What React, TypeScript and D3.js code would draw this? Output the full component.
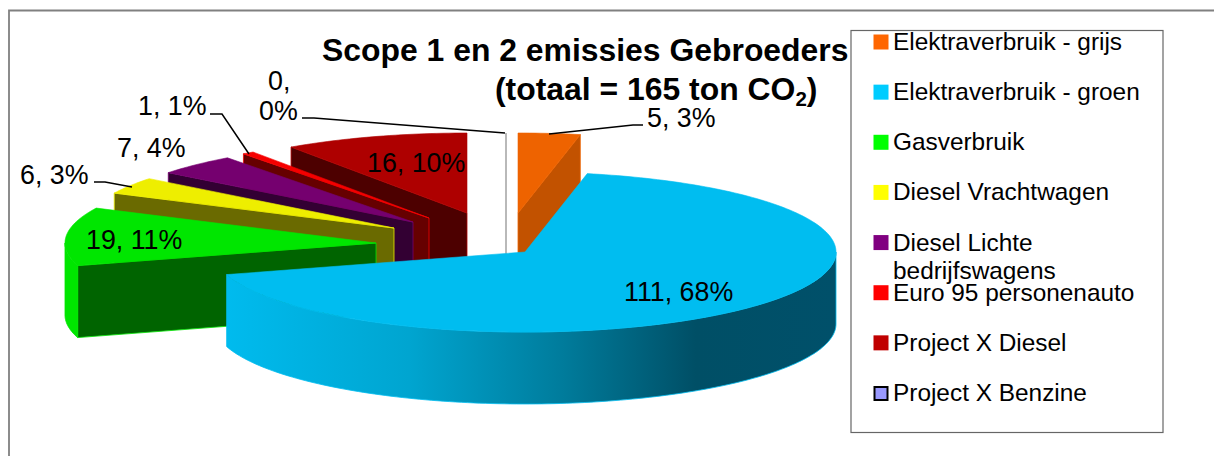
import React from "react";
import * as d3 from "d3";

// ---- data ----
const categories = [
  "Elektraverbruik - grijs",
  "Elektraverbruik - groen",
  "Gasverbruik",
  "Diesel Vrachtwagen",
  "Diesel Lichte bedrijfswagens",
  "Euro 95 personenauto",
  "Project X Diesel",
  "Project X Benzine",
];
const values = [5.3, 111, 19.4, 5.6, 7, 1, 15.8, 0];
const valueLabels = ["5, 3%", "111, 68%", "19, 11%", "6, 3%", "7, 4%", "1, 1%", "16, 10%", "0, 0%"];

// ---- styles / layout ----
const topColors = ["#EE6300", "#00BDF0", "#00E600", "#EEEE00", "#75006F", "#F50000", "#AE0000", "#A8A8A8"];
const faceColors = ["#C25200", "#00BDF0", "#006400", "#6A6A00", "#330033", "#660000", "#4D0000", "#A8A8A8"];
const swatchColors = ["#FF6600", "#00CCFF", "#00FF00", "#FFFF00", "#800080", "#FF0000", "#C00000", "#9999FF"];
const apexX = [518, 525, 376, 394, 413, 429, 467, 506];
const apexY = [213, 252, 243, 228, 222, 218, 213, 213];
const paintOrder = [7, 6, 5, 4, 3, 2, 0, 1];
const RX = 311;
const RY = 80;
const DEPTH = 72;
const FONT = "'Liberation Sans', Arial, sans-serif";

const pieAngles = d3.pie<number>().sort(null).value((d) => d)(values);
const sx = d3.scaleLinear().domain([-1, 1]).range([-RX, RX]);
const sy = d3.scaleLinear().domain([-1, 1]).range([RY, -RY]);
const line = d3.line<[number, number]>();
const legendY = d3.scaleLinear().domain([0, 7]).range([42, 393]);

function rimPoint(i: number, a: number, drop = 0): [number, number] {
  return [apexX[i] + sx(Math.sin(a)), apexY[i] + sy(Math.cos(a)) + drop];
}
function arcPoints(i: number, a0: number, a1: number, drop = 0): [number, number][] {
  const n = Math.max(2, Math.ceil(Math.abs(a1 - a0) / 0.02));
  return d3.range(n + 1).map((k) => rimPoint(i, a0 + ((a1 - a0) * k) / n, drop));
}
function radialFace(i: number, a: number): string {
  const apex: [number, number] = [apexX[i], apexY[i]];
  const rim = rimPoint(i, a);
  return line([apex, rim, [rim[0], rim[1] + DEPTH], [apex[0], apex[1] + DEPTH]])! + "Z";
}
function Slice({ i }: { i: number }) {
  const { startAngle: a0, endAngle: a1 } = pieAngles[i];
  const apex: [number, number] = [apexX[i], apexY[i]];
  if (values[i] === 0) {
    const rim = rimPoint(i, a1);
    return <path d={line([rim, [apex[0], apex[1] + DEPTH]])!} stroke={topColors[i]} strokeWidth={1.6} fill="none" />;
  }
  const faces: string[] = [];
  if (Math.cos(a0 - Math.PI / 2) < -0.001) faces.push(radialFace(i, a0));
  if (Math.cos(a1 + Math.PI / 2) < -0.001) faces.push(radialFace(i, a1));
  const r0 = Math.max(a0, Math.PI / 2);
  const r1 = Math.min(a1, (3 * Math.PI) / 2);
  const rimPath = r1 > r0 ? line([...arcPoints(i, r0, r1), ...arcPoints(i, r1, r0, DEPTH)])! + "Z" : null;
  const topPath = line([apex, ...arcPoints(i, a0, a1)])! + "Z";
  return (
    <g>
      {faces.map((d, k) => (
        <path key={k} d={d} fill={faceColors[i]} stroke={topColors[i]} strokeWidth={0.8} />
      ))}
      {rimPath && (
        <path d={rimPath} fill={i === 1 ? "url(#blueRim)" : topColors[i]} stroke={topColors[i]} strokeWidth={0.8} />
      )}
      <path d={topPath} fill={topColors[i]} stroke={topColors[i]} strokeWidth={0.6} />
    </g>
  );
}

const leaders: [number, number][][] = [
  [[549, 134], [633, 125], [643, 125]],
  [[302, 118], [314, 118], [505, 133]],
  [[210, 114], [222, 114], [249, 154]],
  [[94, 182], [105, 182], [132, 187]],
];
const LABEL_FS = 26.8;
const labelPos: [number, number][] = [
  [647, 127], [624, 301], [86, 249], [20, 184], [117, 157], [138, 115], [367, 172],
];

export default function App() {
  return (
    <svg
      width={1214}
      height={456}
      viewBox="0 0 1214 456"
      style={{ position: "absolute", left: 0, top: 0, display: "block", background: "#fff" }}
    >
      <defs>
        <linearGradient id="blueRim" gradientUnits="userSpaceOnUse" x1={226} x2={836} y1={0} y2={0}>
          <stop offset="0" stopColor="#00BBEE" />
          <stop offset="0.3" stopColor="#00A5D0" />
          <stop offset="0.55" stopColor="#007C9C" />
          <stop offset="0.77" stopColor="#004F66" />
          <stop offset="1" stopColor="#00506A" />
        </linearGradient>
      </defs>
      <path d="M9 456V10.5H1214" fill="none" stroke="#808080" strokeWidth={1.8} />

      <g fontFamily={FONT} fontWeight="bold" fontSize={31.9} fill="#000">
        <text x={322} y={61}>Scope 1 en 2 emissies Gebroeders</text>
        <text x={495} y={100}>
          (totaal = 165 ton CO<tspan fontSize={20.5} dy={6}>2</tspan><tspan dy={-6}>)</tspan>
        </text>
      </g>

      {paintOrder.map((i) => (
        <Slice key={i} i={i} />
      ))}

      {leaders.map((pts, i) => (
        <path key={i} d={line(pts)!} fill="none" stroke="#000" strokeWidth={1.5} />
      ))}
      <g fontFamily={FONT} fontSize={LABEL_FS} fill="#000">
        {labelPos.map(([x, y], i) => (
          <text key={i} x={x} y={y}>{valueLabels[i]}</text>
        ))}
        <text x={268} y={90}>{valueLabels[7].split(" ")[0]}</text>
        <text x={259} y={120}>{valueLabels[7].split(" ")[1]}</text>
      </g>

      <rect x={851} y={30.5} width={312} height={402} fill="#fff" stroke="#666" strokeWidth={1.2} />
      <g fontFamily={FONT} fontSize={24.4} fill="#000">
        {categories.map((c, i) => {
          const y = legendY(i);
          const isLast = i === 7;
          const wrap = c === "Diesel Lichte bedrijfswagens";
          return (
            <g key={c}>
              <rect
                x={isLast ? 874.5 : 873.5}
                y={y - (isLast ? 6 : 7.5)}
                width={isLast ? 13 : 15}
                height={isLast ? 13 : 15}
                fill={swatchColors[i]}
                stroke={isLast ? "#000" : "none"}
                strokeWidth={2}
              />
              {wrap ? (
                <>
                  <text x={893} y={y + 8}>Diesel Lichte</text>
                  <text x={893} y={y + 36}>bedrijfswagens</text>
                </>
              ) : (
                <text x={893} y={y + 8}>{c}</text>
              )}
            </g>
          );
        })}
      </g>
    </svg>
  );
}
